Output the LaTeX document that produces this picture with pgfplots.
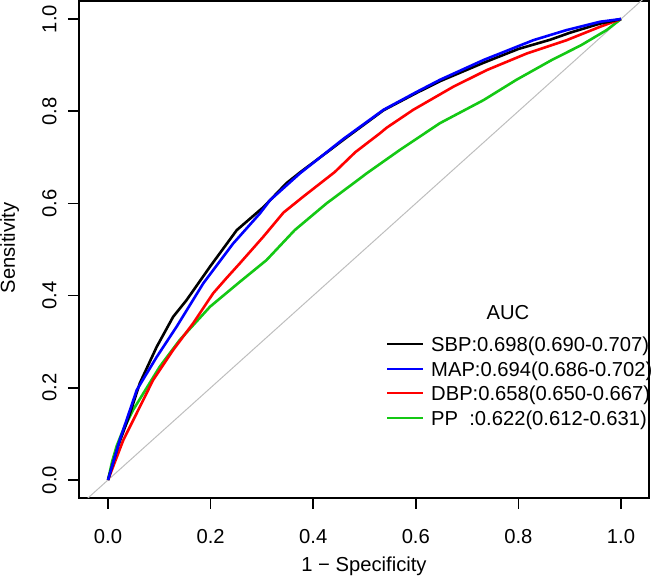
\documentclass[border=0pt]{standalone}
\usepackage{fontspec}
\setmainfont{Liberation Sans}
\usepackage{pgfplots}
\pgfplotsset{compat=1.18}
\definecolor{rgreen}{RGB}{20,200,20}
\definecolor{rred}{RGB}{255,0,0}
\definecolor{rblue}{RGB}{0,0,255}
\definecolor{rgray}{RGB}{190,190,190}
\begin{document}
\fontsize{20.2}{24}\selectfont
\begin{tikzpicture}
\useasboundingbox (-79pt,-85pt) rectangle (572pt,498pt);
\begin{axis}[
  scale only axis, width=570pt, height=497pt,
  xmin=-0.05653, xmax=1.05458, ymin=-0.03905, ymax=1.03905,
  axis line style={line width=1.6pt},
  tick style={line width=1.6pt, black},
  tick align=outside, major tick length=11pt,
  xtick={0,0.2,0.4,0.6,0.8,1}, ytick={0,0.2,0.4,0.6,0.8,1},
  xtick pos=bottom, ytick pos=left,
  /pgf/number format/.cd, fixed, fixed zerofill, precision=1, assume math mode=true,
  /pgfplots/.cd,
  xticklabel style={anchor=base, yshift=-35pt},
  yticklabel style={xshift=-11.6pt, rotate=90, anchor=base},
  clip=true,
]
\addplot[rgray, line width=1pt] coordinates {(-0.2,-0.2) (1.2,1.2)};
% PP
\addplot[rgreen, line width=2.6pt] coordinates {
(0,0) (0.008,0.040) (0.017,0.074) (0.030,0.110) (0.049,0.152) (0.101,0.246) (0.140,0.304) (0.199,0.376)
(0.255,0.428) (0.309,0.477) (0.364,0.542) (0.426,0.600) (0.491,0.654) (0.504,0.665)
(0.569,0.716) (0.647,0.774) (0.732,0.824) (0.796,0.868) (0.865,0.911) (0.922,0.943)
(0.972,0.976) (1,1)};
% DBP
\addplot[rred, line width=2.6pt] coordinates {
(0,0) (0.030,0.087) (0.056,0.145) (0.088,0.217) (0.127,0.282) (0.166,0.340) (0.205,0.405)
(0.231,0.438) (0.257,0.470) (0.303,0.528) (0.342,0.580) (0.381,0.615) (0.442,0.668)
(0.482,0.711) (0.530,0.752) (0.543,0.764) (0.595,0.803) (0.673,0.853) (0.738,0.889)
(0.816,0.925) (0.894,0.954) (0.959,0.983) (1,1)};
% SBP
\addplot[black, line width=2.6pt] coordinates {
(0,0) (0.020,0.075) (0.036,0.123) (0.043,0.145) (0.062,0.210) (0.095,0.289) (0.127,0.354) (0.153,0.390)
(0.199,0.463) (0.251,0.542) (0.303,0.592) (0.348,0.644) (0.374,0.667) (0.433,0.716)
(0.459,0.738) (0.537,0.802) (0.602,0.840) (0.647,0.865) (0.732,0.905) (0.800,0.935)
(0.862,0.955) (0.900,0.970) (0.959,0.990) (1,1)};
% MAP
\addplot[rblue, line width=2.6pt] coordinates {
(0,0) (0.023,0.087) (0.056,0.195) (0.095,0.267) (0.134,0.333) (0.186,0.427) (0.244,0.513)
(0.296,0.578) (0.316,0.607) (0.374,0.665) (0.459,0.740) (0.537,0.803) (0.602,0.842)
(0.647,0.868) (0.732,0.911) (0.829,0.954) (0.894,0.976) (0.959,0.994) (1,1)};
\end{axis}
% axis titles
\node[anchor=base] at (285pt,-74pt) {1 − Specificity};
\node[xshift=-64pt, rotate=90, anchor=base] at (0pt,250pt) {Sensitivity};
% legend
\node[anchor=base, inner sep=0pt] at (429pt,178pt) {AUC};
\draw[black, line width=2pt] (308pt,153.5pt) -- (344pt,153.5pt);
\node[anchor=base west, inner sep=0pt] at (352pt,146pt) {SBP:0.698(0.690-0.707)};
\draw[rblue, line width=2pt] (308pt,129pt) -- (344pt,129pt);
\node[anchor=base west, inner sep=0pt] at (352pt,121.5pt) {MAP:0.694(0.686-0.702)};
\draw[rred, line width=2pt] (308pt,104.5pt) -- (344pt,104.5pt);
\node[anchor=base west, inner sep=0pt] at (352pt,97pt) {DBP:0.658(0.650-0.667)};
\draw[rgreen, line width=2pt] (308pt,80pt) -- (344pt,80pt);
\node[anchor=base west, inner sep=0pt] at (352pt,72.5pt) {PP\ \ :0.622(0.612-0.631)};
\end{tikzpicture}
\end{document}
